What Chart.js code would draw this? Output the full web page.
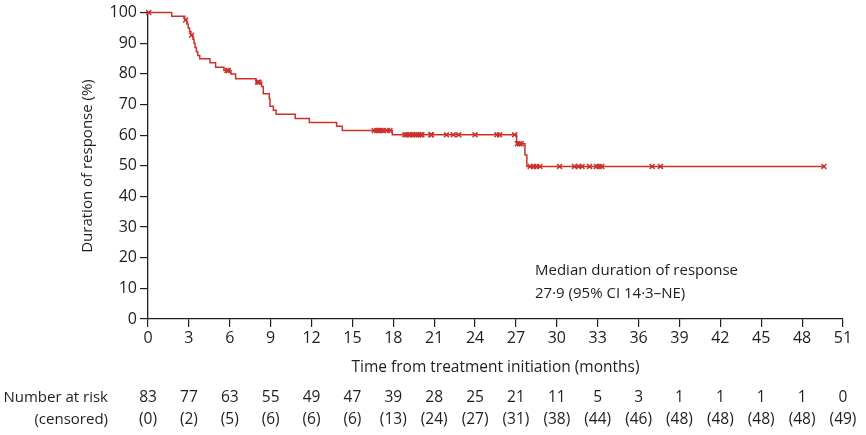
<!DOCTYPE html>
<html>
<head>
<meta charset="utf-8">
<script src="https://cdn.jsdelivr.net/npm/chart.js@4.4.1/dist/chart.umd.min.js"></script>
<style>
  html, body { margin: 0; padding: 0; background: #fff; }
  #wrap { width: 866px; height: 435px; }
</style>
</head>
<body>
<div id="wrap"><canvas id="km" width="866" height="435"></canvas></div>
<script>
// Kaplan-Meier steps (months, % still in response)
const eventMonths = [0, 1.74, 2.7, 2.85, 2.95, 3.05, 3.15, 3.3, 3.38, 3.45, 3.55, 3.65, 3.8,
  4.55, 4.96, 5.57, 6.09, 6.43, 7.93, 8.34, 8.46, 8.9, 8.95, 9.2, 9.4, 10.8, 11.84,
  13.84, 14.26, 17.93, 27.05, 27.66, 27.8, 49.6];
const survivalPct = [100, 98.8, 97.6, 96.3, 95.0, 93.8, 92.6, 91.3, 90.0, 88.6, 87.2, 86.0, 84.9,
  83.6, 82.2, 81.1, 80.0, 78.4, 77.3, 75.9, 73.5, 71.9, 69.4, 68.1, 66.8, 65.4, 64.1,
  62.9, 61.5, 60.1, 57.2, 53.5, 49.8, 49.8];

// censoring marks (months)
const censorMonths = [0.05, 2.76, 3.2, 5.8, 5.9, 8.05, 8.15,
  16.6, 16.8, 16.95, 17.1, 17.25, 17.55, 17.75,
  18.85, 19.0, 19.2, 19.4, 19.55, 19.7, 19.85, 20.0, 20.1, 20.75, 20.8,
  21.9, 22.4, 22.8, 24.0, 25.6, 25.8, 26.9,
  27.1, 27.25, 27.4, 28.05, 28.3, 28.5, 28.75,
  30.2, 31.3, 31.6, 31.85, 32.4, 32.9, 33.1, 33.3, 37.0, 37.6, 49.6];

const xTicks = [0, 3, 6, 9, 12, 15, 18, 21, 24, 27, 30, 33, 36, 39, 42, 45, 48, 51];
const atRisk = [83, 77, 63, 55, 49, 47, 39, 28, 25, 21, 11, 5, 3, 1, 1, 1, 1, 0];
const censored = [0, 2, 5, 6, 6, 6, 13, 24, 27, 31, 38, 44, 46, 48, 48, 48, 48, 49];

const RED = "#c9322a";
const INK = "#1e1e1e";
const FONT = "'Open Sans', sans-serif";

// value of the step curve at time t
function survivalAt(t) {
  let s = survivalPct[0];
  for (let i = 0; i < eventMonths.length; i++) {
    if (eventMonths[i] <= t) s = survivalPct[i];
  }
  return s;
}

const curve = eventMonths.map((m, i) => ({ x: m, y: survivalPct[i] }));
const marks = censorMonths.map(m => ({ x: m, y: survivalAt(m) }));

const textPlugin = {
  id: "kmText",
  afterDraw(chart) {
    const { ctx, scales: { x }, chartArea } = chart;
    ctx.save();
    ctx.fillStyle = INK;
    ctx.textBaseline = "middle";

    // axis titles
    ctx.font = "15.5px " + FONT;
    ctx.textAlign = "center";
    ctx.fillText("Time from treatment initiation (months)", (chartArea.left + chartArea.right) / 2, 368);
    ctx.save();
    ctx.translate(88, 166);
    ctx.rotate(-Math.PI / 2);
    ctx.font = "15px " + FONT;
    ctx.fillText("Duration of response (%)", 0, 0);
    ctx.restore();

    // median note
    ctx.font = "15px " + FONT;
    ctx.textAlign = "left";
    ctx.fillText("Median duration of response", 535, 271);
    ctx.fillText("27\u00b79 (95% CI 14\u00b73\u2013NE)", 535, 294);

    // number at risk table
    ctx.textAlign = "right";
    ctx.fillText("Number at risk", 108, 398);
    ctx.fillText("(censored)", 108, 420);
    ctx.textAlign = "center";
    ctx.font = "15.5px " + FONT;
    xTicks.forEach((t, i) => {
      const px = x.getPixelForValue(t);
      ctx.fillText(String(atRisk[i]), px, 398);
      ctx.fillText("(" + censored[i] + ")", px, 420);
    });
    ctx.restore();
  }
};

new Chart(document.getElementById("km"), {
  type: "line",
  data: {
    datasets: [
      {
        label: "KM",
        data: curve,
        stepped: "before",
        borderColor: RED,
        borderWidth: 1.5,
        pointRadius: 0,
        fill: false,
        clip: false,
      },
      {
        label: "Censored",
        type: "scatter",
        data: marks,
        pointStyle: "crossRot",
        pointRadius: 3.5,
        pointBorderWidth: 1.5,
        borderColor: RED,
        backgroundColor: RED,
        clip: false,
      },
    ],
  },
  options: {
    responsive: false,
    animation: false,
    devicePixelRatio: 1,
    layout: { padding: { left: 0, right: 23, top: 12, bottom: 0 } },
    plugins: { legend: { display: false }, tooltip: { enabled: false } },
    scales: {
      x: {
        type: "linear",
        min: 0,
        max: 51,
        afterFit(scale) { scale.height = 116; },
        afterBuildTicks(scale) { scale.ticks = xTicks.map(v => ({ value: v })); },
        grid: { drawOnChartArea: false, drawTicks: true, tickLength: 8, color: INK, lineWidth: 1.2 },
        border: { display: true, color: INK, width: 1.3 },
        ticks: { color: INK, font: { family: FONT, size: 16 }, padding: 2, maxRotation: 0 },
      },
      y: {
        min: 0,
        max: 100,
        afterFit(scale) { scale.width = 148; },
        grid: { drawOnChartArea: false, drawTicks: true, tickLength: 8, color: INK, lineWidth: 1.2 },
        border: { display: true, color: INK, width: 1.3 },
        ticks: { stepSize: 10, color: INK, font: { family: FONT, size: 16 }, padding: 3 },
      },
    },
  },
  plugins: [textPlugin],
});
</script>
</body>
</html>
